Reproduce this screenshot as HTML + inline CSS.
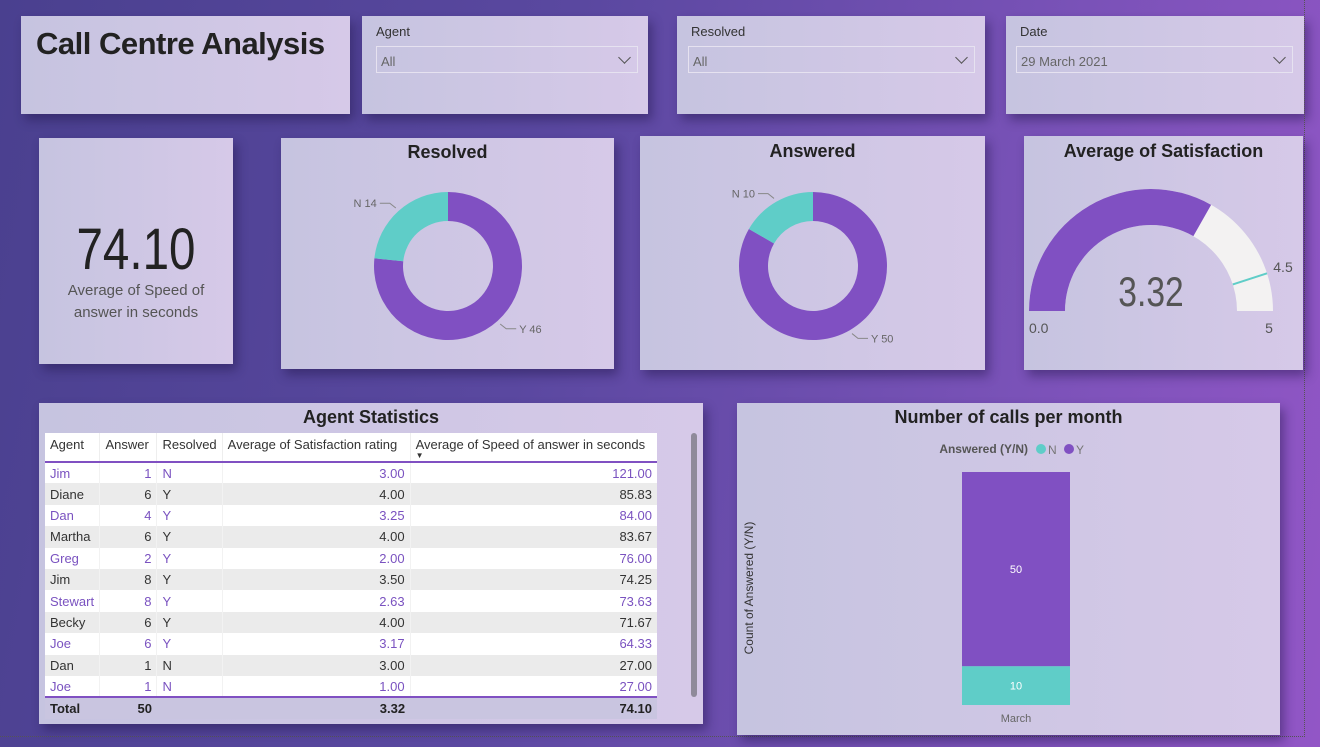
<!DOCTYPE html>
<html><head><meta charset="utf-8">
<style>
*{box-sizing:border-box;margin:0;padding:0}
body{width:1320px;height:747px;overflow:hidden;font-family:"Liberation Sans",sans-serif;background:linear-gradient(100deg,#4a408f 0%,#5a48a0 40%,#7a52b8 75%,#9256c6 100%);position:relative}
.p{position:absolute;background:linear-gradient(90deg,#c6c4e0,#d6c9e8);box-shadow:4px 6px 10px rgba(30,20,70,.45)}
.lbl{position:absolute;font-size:13px;color:#333}
.dd{position:absolute;border:1px solid #e6e2f0;font-size:13px;color:#666;padding:7px 0 0 4px;height:27px}
.chev{position:absolute;right:8px;top:6px;width:9px;height:9px;border-right:1px solid #555;border-bottom:1px solid #555;transform:rotate(45deg)}
.ttl{position:absolute;width:100%;text-align:center;font-weight:bold;font-size:18px;color:#222}
table{border-collapse:collapse;font-size:13px}
td{height:21.4px;padding:0 5px;white-space:nowrap}
</style></head><body>
<div class="p" style="left:21px;top:16px;width:329px;height:98px"><div style="position:absolute;left:15px;top:10px;font-size:31px;font-weight:bold;color:#222;white-space:nowrap;letter-spacing:-0.5px">Call Centre Analysis</div></div>

<div class="p" style="left:362px;top:16px;width:286px;height:98px">
<div class="lbl" style="left:14px;top:8px">Agent</div>
<div class="dd" style="left:14px;top:30px;width:262px">All<span class="chev"></span></div></div>

<div class="p" style="left:677px;top:16px;width:308px;height:98px">
<div class="lbl" style="left:14px;top:8px">Resolved</div>
<div class="dd" style="left:11px;top:30px;width:287px">All<span class="chev"></span></div></div>

<div class="p" style="left:1006px;top:16px;width:298px;height:98px">
<div class="lbl" style="left:14px;top:8px">Date</div>
<div class="dd" style="left:10px;top:30px;width:277px">29 March 2021<span class="chev"></span></div></div>
<div style="position:absolute;left:1304px;top:0;height:737px;border-left:1px dotted #555"></div>
<div style="position:absolute;left:0;top:736px;width:1305px;border-top:1px dotted #555"></div>

<div class="p" style="left:39px;top:138px;width:194px;height:226px">
<div style="position:absolute;width:100%;text-align:center;top:78px;font-size:58px;color:#222;transform:scaleX(0.82)">74.10</div>
<div style="position:absolute;width:100%;text-align:center;top:142px;font-size:15px;line-height:22px;color:#555">Average of Speed of<br>answer in seconds</div></div>

<div class="p" style="left:281px;top:138px;width:333px;height:231px"><div class="ttl" style="top:4px">Resolved</div></div>
<div class="p" style="left:640px;top:136px;width:345px;height:234px"><div class="ttl" style="top:5px">Answered</div></div>
<div class="p" style="left:1024px;top:136px;width:279px;height:234px"><div class="ttl" style="top:5px">Average of Satisfaction</div></div>
<div class="p" style="left:39px;top:403px;width:664px;height:321px"><div class="ttl" style="top:4px">Agent Statistics</div></div>
<div class="p" style="left:737px;top:403px;width:543px;height:332px"><div class="ttl" style="top:4px">Number of calls per month</div></div>

<svg id="svg" width="1320" height="747" style="position:absolute;left:0;top:0"></svg>

<div style="position:absolute;left:45px;top:433px;width:612px;background:#fff">
<table id="tbl" style="width:612px"></table></div>
<div style="position:absolute;left:691px;top:433px;width:6px;height:264px;background:#8f8a9a;border-radius:3px"></div>

<script>
const resolvedCats=["Y","N"];const resolvedVals=[46,14];
const answeredCats=["Y","N"];const answeredVals=[50,10];
const gaugeValue=3.32, gaugeMin=0, gaugeMax=5, gaugeTarget=4.5;
const months=["March"];const seriesN=[10];const seriesY=[50];
const agents=["Jim","Diane","Dan","Martha","Greg","Jim","Stewart","Becky","Joe","Dan","Joe"];
const answers=[1,6,4,6,2,8,8,6,6,1,1];
const resolvedFlag=["N","Y","Y","Y","Y","Y","Y","Y","Y","N","N"];
const satis=[3.00,4.00,3.25,4.00,2.00,3.50,2.63,4.00,3.17,3.00,1.00];
const speed=[121.00,85.83,84.00,83.67,76.00,74.25,73.63,71.67,64.33,27.00,27.00];
const totals=["Total","50","","3.32","74.10"];

const NS="http://www.w3.org/2000/svg",svg=document.getElementById('svg');
function mk(t,a,parent){const e=document.createElementNS(NS,t);for(const k in a)e.setAttribute(k,a[k]);(parent||svg).appendChild(e);return e;}
const PURPLE="#8050c2",TEAL="#5fcdc8";
function arc(cx,cy,r0,r1,a0,a1){const p=(r,a)=>[cx+r*Math.sin(a),cy-r*Math.cos(a)];const l=(a1-a0)>Math.PI?1:0;
const[a,b]=p(r1,a0),[c,d]=p(r1,a1),[e,f]=p(r0,a1),[g,h]=p(r0,a0);
return `M${a},${b}A${r1},${r1} 0 ${l} 1 ${c},${d}L${e},${f}A${r0},${r0} 0 ${l} 0 ${g},${h}Z`;}
function donut(cx,cy,cats,vals,nm){const tot=vals.reduce((a,b)=>a+b,0);let a=0;
cats.forEach((c,i)=>{const s=vals[i]/tot*2*Math.PI;const p=mk('path',{d:arc(cx,cy,45,74,a,a+s),fill:i==0?PURPLE:TEAL});


const m=a+s/2,x1=cx+78*Math.sin(m),y1=cy-78*Math.cos(m),right=Math.sin(m)>0;
const x2=x1+(right?10:-10)*0.6,y2=y1+(Math.cos(m)<0?8:-8)*0.6;
const ln=mk('polyline',{points:`${x1},${y1} ${x2},${y2} ${x2+(right?10:-10)},${y2}`,fill:'none',stroke:'#888'});


const t=mk('text',{x:x2+(right?13:-13),y:y2+4,'font-size':11,fill:'#666','text-anchor':right?'start':'end'});t.textContent=c+' '+vals[i];


a+=s;});}
donut(448,266,resolvedCats,resolvedVals,'resolved');
donut(813,266,answeredCats,answeredVals,'answered');

// gauge
const gcx=1151,gcy=311;
const ang=v=>-Math.PI/2+(v-gaugeMin)/(gaugeMax-gaugeMin)*Math.PI;
const gb=mk('path',{d:arc(gcx,gcy,86,122,ang(gaugeMin),ang(gaugeMax)),fill:'#f3f2f2'});


const gv=mk('path',{d:arc(gcx,gcy,86,122,ang(gaugeMin),ang(gaugeValue)),fill:PURPLE});


const ta=ang(gaugeTarget);
const gt=mk('line',{x1:gcx+86*Math.sin(ta),y1:gcy-86*Math.cos(ta),x2:gcx+122*Math.sin(ta),y2:gcy-122*Math.cos(ta),stroke:TEAL,'stroke-width':2});


const gvl=mk('text',{x:0,y:0,'font-size':42,'text-anchor':'middle',fill:'#555',transform:`translate(${gcx},${gcy-5}) scale(0.8,1)`});gvl.textContent=gaugeValue.toFixed(2);


[[gaugeMin.toFixed(1),1029,333,14,'start','#555','gauge-min-label'],[String(gaugeMax),1269,333,14,'middle','#555','gauge-max-label'],[String(gaugeTarget),1283,272,14,'middle','#555','gauge-target-label']].forEach(d=>{
const t=mk('text',{x:d[1],y:d[2],'font-size':d[3],'text-anchor':d[4],fill:d[5]});t.textContent=d[0];

});

// bar chart
const base=705,top0=472,maxV=seriesN[0]+seriesY[0];
const yS=v=>(base-top0)*v/maxV;
const bx0=962,bw=108;
months.forEach((m,i)=>{const x=bx0+i*150;
const hN=yS(seriesN[i]),hY=yS(seriesY[i]);
const rN=mk('rect',{x:x,y:base-hN,width:bw,height:hN,fill:TEAL});


const rY=mk('rect',{x:x,y:base-hN-hY,width:bw,height:hY,fill:PURPLE});


[[seriesN[i],base-hN/2+4],[seriesY[i],base-hN-hY/2+4]].forEach(([v,y])=>{const t=mk('text',{x:x+bw/2,y:y,'font-size':11,fill:'#fff','text-anchor':'middle'});t.textContent=v;

});
const xl=mk('text',{x:x+bw/2,y:base+17,'font-size':11,fill:'#666','text-anchor':'middle'});xl.textContent=m;

});
const yt=mk('text',{x:0,y:0,'font-size':12,fill:'#333','text-anchor':'middle',transform:'translate(753,588) rotate(-90)'});yt.textContent='Count of Answered (Y/N)';


const lg=mk('text',{x:1028,y:453,'font-size':12,fill:'#555','font-weight':'bold','text-anchor':'end'});lg.textContent='Answered (Y/N)';


[['N',TEAL,1041],['Y',PURPLE,1069]].forEach(([n,c,x])=>{const ci=mk('circle',{cx:x,cy:449,r:5,fill:c});


const t=mk('text',{x:x+7,y:454,'font-size':12,fill:'#777'});t.textContent=n;

});

// table
const tbl=document.getElementById('tbl');
const hdr=["Agent","Answer","Resolved","Average of Satisfaction rating","Average of Speed of answer in seconds"];
const widths=[55,57,65,188,247],aligns=["left","right","left","right","right"];
let tr=document.createElement('tr');


tr.style.borderBottom='2px solid #8050c2';
hdr.forEach((h,i)=>{const td=document.createElement('td');td.textContent=h;td.style.width=widths[i]+'px';td.style.height='29px';td.style.verticalAlign='top';td.style.paddingTop='4px';td.style.color='#333';td.style.borderRight=i<4?'1px solid #eee':'';
if(i==4){td.style.position='relative';td.innerHTML=h+'<span style="position:absolute;left:5px;top:18px;font-size:8px">&#9660;</span>';}


tr.appendChild(td);});tbl.appendChild(tr);
agents.forEach((a,r)=>{const row=document.createElement('tr');


row.style.background=r%2?'#ebebeb':'#fff';row.style.color=r%2?'#333':'#7a52c0';
[a,answers[r],resolvedFlag[r],satis[r].toFixed(2),speed[r].toFixed(2)].forEach((v,i)=>{const td=document.createElement('td');td.textContent=v;td.style.textAlign=aligns[i];td.style.borderRight=i<4?'1px solid #f2f2f2':'';row.appendChild(td);});
tbl.appendChild(row);});
const tt=document.createElement('tr');


tt.style.background='#c9c5e0';tt.style.borderTop='2px solid #8050c2';tt.style.fontWeight='bold';tt.style.color='#222';
totals.forEach((v,i)=>{const td=document.createElement('td');td.textContent=v;td.style.textAlign=i==0?'left':aligns[i];td.style.height='22px';tt.appendChild(td);});
tbl.appendChild(tt);
</script>
</body></html>
